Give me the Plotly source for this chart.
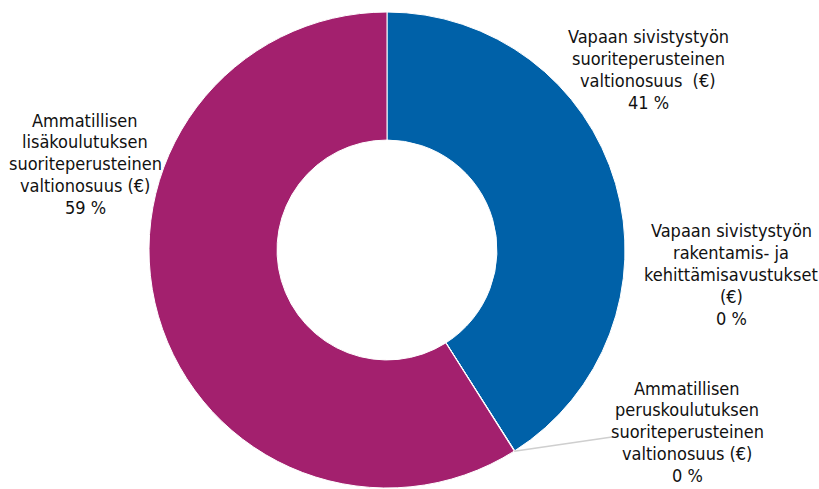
import numpy as np
import plotly.graph_objects as go

# ---- data ----
categories = [
    "Vapaan sivistystyön suoriteperusteinen valtionosuus (€)",
    "Vapaan sivistystyön rakentamis- ja kehittämisavustukset (€)",
    "Ammatillisen peruskoulutuksen suoriteperusteinen valtionosuus (€)",
    "Ammatillisen lisäkoulutuksen suoriteperusteinen valtionosuus (€)",
]
values = [41.0, 0.02, 0.02, 59.0]
percent_labels = ["41 %", "0 %", "0 %", "59 %"]
label_lines = [
    ["Vapaan sivistystyön", "suoriteperusteinen", "valtionosuus  (€)"],
    ["Vapaan sivistystyön", "rakentamis- ja", "kehittämisavustukset", "(€)"],
    ["Ammatillisen", "peruskoulutuksen", "suoriteperusteinen", "valtionosuus (€)"],
    ["Ammatillisen", "lisäkoulutuksen", "suoriteperusteinen", "valtionosuus (€)"],
]
colors = ["#0061A8", "#0061A8", "#A3206E", "#A3206E"]

# ---- layout geometry (pixels) ----
W, H = 819, 489
cx, cy, R = 387, 250, 238
hole = 0.462
label_pos = [  # (center x, first line y)
    (648, 37),
    (731, 231),
    (687, 388),
    (85, 120),
]
line_step = 21.8
font = dict(family="Liberation Sans Narrow, DejaVu Sans Condensed, Arial Narrow, sans-serif",
            size=18, color="#111111")

fig = go.Figure(go.Pie(
    labels=categories,
    values=values,
    sort=False,
    direction="clockwise",
    rotation=0,
    hole=hole,
    marker=dict(colors=colors, line=dict(color="white", width=1)),
    textinfo="none",
    hoverinfo="label+percent",
    domain=dict(x=[(cx - 300) / W, (cx + 300) / W], y=[1 - (cy + R) / H, 1 - (cy - R) / H]),
    showlegend=False,
))

annotations = []
for (lx, ly), lines, pct in zip(label_pos, label_lines, percent_labels):
    for i, t in enumerate(lines + [pct]):
        annotations.append(dict(
            x=lx / W, y=1 - (ly + i * line_step) / H, xref="paper", yref="paper",
            text=t, showarrow=False, xanchor="center", yanchor="middle",
            font=font,
        ))
fig.update_layout(annotations=annotations)

# leader line for the small "Ammatillisen peruskoulutuksen" slice
total = sum(values)
frac = sum(values[:3]) / total
theta = 2 * np.pi * frac
px0 = cx + R * np.sin(theta)
py0 = cy - R * np.cos(theta)
fig.add_shape(type="line", xref="paper", yref="paper",
              x0=px0 / W, y0=1 - py0 / H, x1=612 / W, y1=1 - 437 / H,
              line=dict(color="#cfcfcf", width=1.5))

fig.update_layout(
    width=W, height=H,
    margin=dict(l=0, r=0, t=0, b=0),
    paper_bgcolor="white", plot_bgcolor="white",
)
fig.write_html("out.html", config={"displayModeBar": False},
               post_script="document.body.style.margin='0';")
